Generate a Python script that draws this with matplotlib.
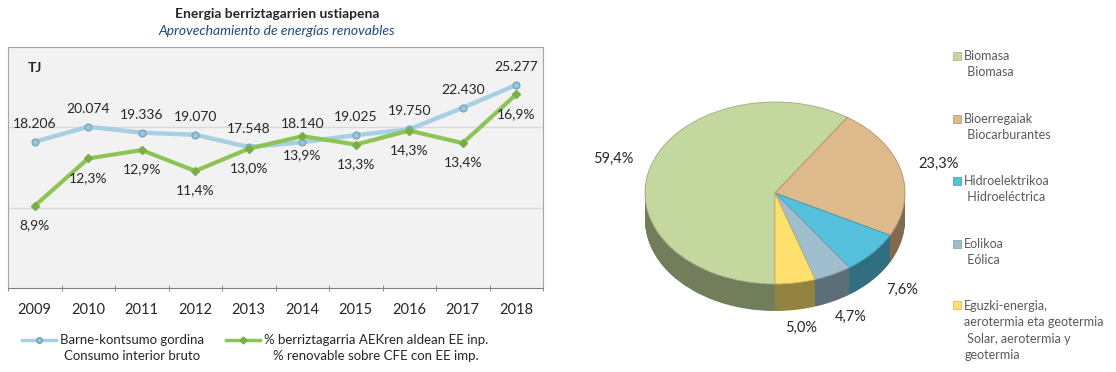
import numpy as np
import matplotlib.pyplot as plt
from matplotlib.lines import Line2D
from matplotlib.patches import Patch
from matplotlib.colors import to_rgb
from matplotlib.legend_handler import HandlerLine2D, HandlerPatch

plt.rcParams['font.family'] = ['Lato', 'DejaVu Sans']

# --- data -------------------------------------------------------------
years = ['2009', '2010', '2011', '2012', '2013', '2014', '2015', '2016', '2017', '2018']
consumo_tj = [18206, 20074, 19336, 19070, 17548, 18140, 19025, 19750, 22430, 25277]
renovable_pct = [8.9, 12.3, 12.9, 11.4, 13.0, 13.9, 13.3, 14.3, 13.4, 16.9]

line_labels = ['Barne-kontsumo gordina\nConsumo interior bruto',
               '% berriztagarria AEKren aldean EE inp.\n% renovable sobre CFE con EE imp.']

fuentes = ['Biomasa\n Biomasa',
           'Bioerregaiak\n Biocarburantes',
           'Hidroelektrikoa\n Hidroeléctrica',
           'Eolikoa\n Eólica',
           'Eguzki-energia,\naerotermia eta geotermia\n Solar, aerotermia y\ngeotermia']
cuota = [59.4, 23.3, 7.6, 4.7, 5.0]
pie_colors = ['#c4d79e', '#ddb98c', '#55c0dc', '#9fbfcf', '#fde06e']

W, H = 1116, 372


def fx(px):
    return px / W


def fy(py):
    return 1 - py / H


def es_num(v):
    return f'{v:,}'.replace(',', '.')


def es_pct(v):
    return f'{v:.1f}%'.replace('.', ',')


# legend line drawn next to the first text line instead of the middle
class FirstLineHandler(HandlerLine2D):
    def create_artists(self, legend, orig_handle, xdescent, ydescent,
                       width, height, fontsize, trans):
        arts = super().create_artists(legend, orig_handle, xdescent, ydescent,
                                      width, height, fontsize, trans)
        for a in arts:
            a.set_ydata(np.asarray(a.get_ydata()) + 0.6 * fontsize)
        return arts


class FirstLinePatch(HandlerPatch):
    def __init__(self, pitch, **kw):
        super().__init__(**kw)
        self.pitch = pitch

    def create_artists(self, legend, orig_handle, xdescent, ydescent,
                       width, height, fontsize, trans):
        arts = super().create_artists(legend, orig_handle, xdescent, ydescent,
                                      width, height, fontsize, trans)
        shift = (orig_handle.nlines - 1) / 2 * self.pitch
        for a in arts:
            a.set_y(a.get_y() + shift)
        return arts


fig = plt.figure(figsize=(W / 100, H / 100), dpi=100)

# ======================================================
# LEFT: line chart
# ======================================================
fig.text(fx(277), fy(14), 'Energia berriztagarrien ustiapena', ha='center', va='center',
         fontsize=10, fontweight='bold', color='#262626')
fig.text(fx(277), fy(31), 'Aprovechamiento de energías renovables', ha='center', va='center',
         fontsize=10, style='italic', color='#1f497d')

ax = fig.add_axes([fx(8), fy(288), 535 / W, 241 / H])
ax.set_facecolor('#f2f2f2')
x = np.arange(len(years))
ax.set_xlim(-0.5, len(years) - 0.5)
ax.set_ylim(0, 30000)
ax.set_yticks([10000, 20000])
ax.yaxis.grid(True, color='#d9d9d9', linewidth=0.9)
ax.set_axisbelow(True)
ax.tick_params(axis='y', length=0, labelleft=False)
ax.set_xticks(x, years)
ax.set_xticks(np.arange(-0.5, len(years), 1), minor=True)
ax.tick_params(axis='x', which='major', length=0, pad=11, labelsize=10.5, labelcolor='#262626')
ax.tick_params(axis='x', which='minor', length=5, direction='inout', color='#7f7f7f')
for s in ax.spines.values():
    s.set_color('#a6a6a6')
ax.spines['bottom'].set_color('#7f7f7f')

ax2 = ax.twinx()
ax2.set_ylim(3.0, 20.3)
ax2.set_yticks([])
for s in ax2.spines.values():
    s.set_visible(False)

ax.plot(x, consumo_tj, color='#a9cfe2', lw=3.2, marker='o', ms=5,
        mfc='#9cc3d6', mec='#6f9fb8', mew=0.8)
ax2.plot(x, renovable_pct, color='#8dc456', lw=3, marker='D', ms=4.5,
         mfc='#7aae45', mec='#7aae45')

for xi, v in zip(x, consumo_tj):
    ax.annotate(es_num(v), (xi, v), xytext=(0, 13), textcoords='offset points',
                ha='center', va='center', fontsize=10, color='#262626')
for xi, v in zip(x, renovable_pct):
    ax2.annotate(es_pct(v), (xi, v), xytext=(0, -14), textcoords='offset points',
                 ha='center', va='center', fontsize=10, color='#262626')

ax.text((35 - 8) / 535, (288 - 68) / 241, 'TJ', transform=ax.transAxes, ha='center',
        va='center', fontsize=10, fontweight='bold', color='#262626')

h1 = Line2D([], [], color='#a9cfe2', lw=2.5, marker='o', ms=4, mfc='#9cc3d6', mec='#6f9fb8')
h2 = Line2D([], [], color='#8dc456', lw=2.5, marker='D', ms=3.5, mfc='#7aae45', mec='#7aae45')
leg1 = fig.legend([h1, h2], line_labels, loc='upper left', bbox_to_anchor=(fx(22), fy(334)),
                  ncol=2, frameon=False, fontsize=9.5, handlelength=2.6, handletextpad=0.3,
                  columnspacing=1.6, borderaxespad=0, borderpad=0,
                  handler_map={Line2D: FirstLineHandler()})
for t in leg1.get_texts():
    t.set_multialignment('center')
    t.set_linespacing(1.35)
    t.set_color('#262626')

# ======================================================
# RIGHT: 3D-looking pie
# ======================================================
pax = fig.add_axes([fx(600), 0, 360 / W, (H - 40) / H])
rx_px, ry_px, depth_px = 130, 91, 27
cx_px, cy_px = 775, 193
n_layers = depth_px
step = depth_px / ry_px / n_layers
side_colors = [tuple(c * 0.58 for c in to_rgb(col)) for col in pie_colors]
edge_colors = [tuple(c * 0.8 for c in to_rgb(col)) for col in pie_colors]

for k in range(n_layers, 0, -1):
    pax.pie(cuota, colors=side_colors, startangle=-90, counterclock=False,
            center=(0, -k * step), wedgeprops=dict(linewidth=0))
wedges, _ = pax.pie(cuota, colors=pie_colors, startangle=-90, counterclock=False,
                    center=(0, 0), wedgeprops=dict(linewidth=0.6))
for w, ec in zip(wedges, edge_colors):
    w.set_edgecolor(ec)

pax.set_aspect('auto')
pax.set_xlim(-(cx_px - 600) / rx_px, (960 - cx_px) / rx_px)
pax.set_ylim(-(H - cy_px) / ry_px, (cy_px - 40) / ry_px)

# percentage labels around the pie
cum = 0.0
total = sum(cuota)
for v in cuota:
    mid = -90 - (cum + v / 2) / total * 360
    cum += v
    a = np.deg2rad(mid)
    lx, ly = 1.3 * np.cos(a), 1.3 * np.sin(a)
    if ly < 0:
        ly -= 0.2
    pax.text(lx, ly, es_pct(v), ha='center', va='center', fontsize=10.5, color='#262626')

handles = []
for c, ec, lab in zip(pie_colors, edge_colors, fuentes):
    p = Patch(facecolor=c, edgecolor=ec, linewidth=0.5)
    p.nlines = lab.count('\n') + 1
    handles.append(p)
leg2 = fig.legend(handles, fuentes, loc='upper left', bbox_to_anchor=(fx(953), fy(50)),
                  frameon=False, fontsize=9, labelspacing=2.75, handlelength=0.6,
                  handleheight=0.6, handletextpad=0.3, borderaxespad=0, borderpad=0,
                  handler_map={Patch: FirstLinePatch(pitch=12.4)})
for t in leg2.get_texts():
    t.set_linespacing(1.42)
    t.set_color('#595959')

fig.savefig('out.png', dpi=100)
